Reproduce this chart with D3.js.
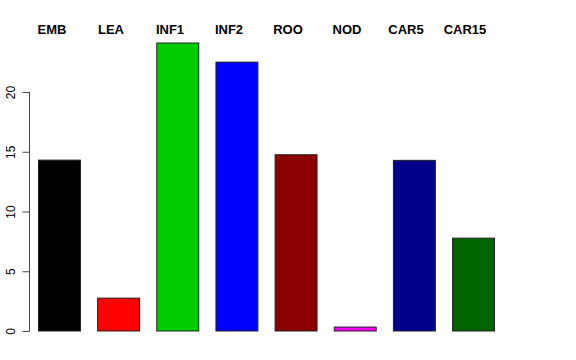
<!DOCTYPE html>
<html><head><meta charset="utf-8">
<script src="https://cdn.jsdelivr.net/npm/d3@7"></script>
<style>body{margin:0;background:#fff}svg{display:block}</style>
</head><body>
<script>
const categories = ["EMB","LEA","INF1","INF2","ROO","NOD","CAR5","CAR15"];
const values = [14.3, 2.75, 24.1, 22.5, 14.75, 0.33, 14.28, 7.77];
const colors = ["#000000","#FF0000","#00CD00","#0000FF","#8B0000","#FF00FF","#00008B","#006400"];
const yTicks = [0, 5, 10, 15, 20];

const W = 576, H = 360;
const svg = d3.select("body").append("svg").attr("width", W).attr("height", H);

const x = d3.scaleBand().domain(categories).range([38, 494]).paddingInner(0.291).paddingOuter(0);
const y = d3.scaleLinear().domain([0, 20]).range([331, 92]);
const xl = d3.scalePoint().domain(categories).range([52, 465]);

svg.selectAll("rect.bar").data(categories).join("rect")
  .attr("class", "bar")
  .attr("x", d => x(d) + 0.5)
  .attr("y", (d, i) => y(values[i]))
  .attr("width", x.bandwidth())
  .attr("height", (d, i) => y(0) - y(values[i]))
  .attr("fill", (d, i) => colors[i])
  .attr("stroke", "#222")
  .attr("stroke-width", 1);

const axis = d3.axisLeft(y).tickValues(yTicks).tickSize(7).tickFormat(d3.format("d"));
const g = svg.append("g").attr("transform", "translate(29.5,0)").call(axis);
g.select(".domain").attr("stroke", "#444").attr("d", "M0," + y(0) + "V" + y(20));
g.selectAll(".tick line").attr("stroke", "#444");
g.selectAll(".tick text")
  .attr("font-family", "Liberation Sans, Arial, sans-serif")
  .attr("font-size", 12)
  .attr("fill", "#000")
  .attr("x", null).attr("y", null)
  .attr("text-anchor", "middle")
  .attr("transform", "translate(-19,0) rotate(-90)")
  .attr("dy", "0.35em");

svg.selectAll("text.lab").data(categories).join("text")
  .attr("class", "lab")
  .attr("x", d => xl(d))
  .attr("y", 34)
  .attr("text-anchor", "middle")
  .attr("font-family", "Liberation Sans, Arial, sans-serif")
  .attr("font-weight", "bold")
  .attr("font-size", 13)
  .text(d => d);
</script>
</body></html>
